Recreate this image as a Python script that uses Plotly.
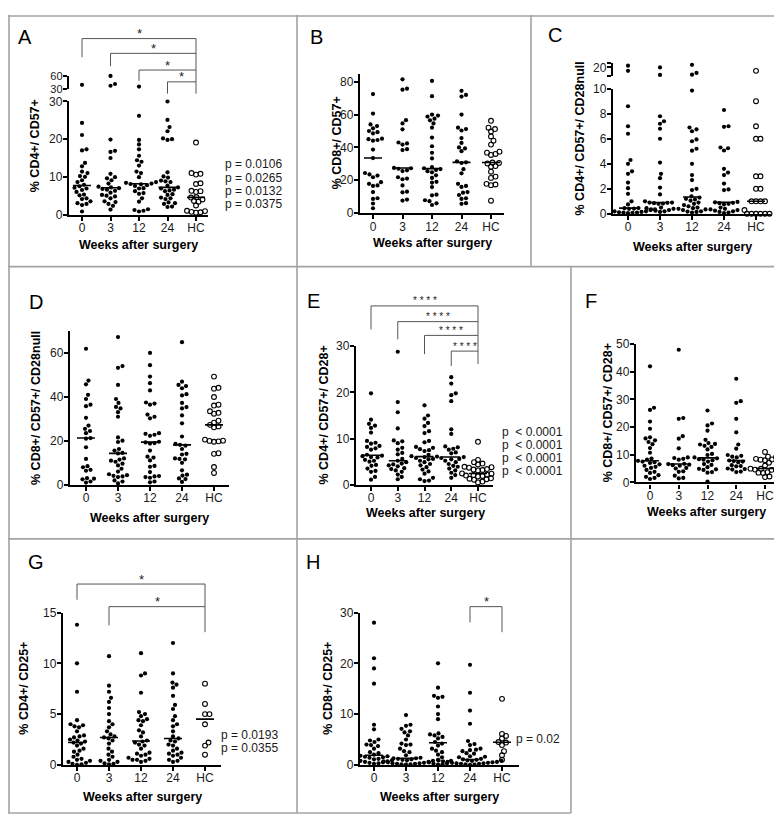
import numpy as np
import plotly.graph_objects as go

W, H = 782, 814
CATS = ["0", "3", "12", "24", "HC"]
FONT = "Liberation Sans, Arial, Helvetica, sans-serif"

# ---------------- data ----------------
A_wk0 = [39, 24.3, 21.1, 17.3, 17.0, 13.7, 12.8, 11.4, 11.0, 10.2, 10.0, 9.1, 8.6, 7.9, 7.5, 7.1, 6.9, 6.5, 6.0, 5.3, 5.1, 4.3, 4.1, 3.5, 3.0, 2.8, 2.5, 0.8]
A_wk3 = [60, 41, 37, 19.9, 16.9, 16.6, 15.0, 10.8, 9.9, 9.6, 9.1, 8.2, 7.4, 7.2, 7.0, 6.8, 6.6, 6.3, 5.8, 5.2, 5.0, 4.8, 4.3, 3.5, 3.3, 2.8, 2.3, 1.3]
A_wk12 = [35, 26.2, 19.8, 18.6, 17.3, 15.6, 14.4, 14.0, 13.0, 11.4, 11.0, 9.9, 8.6, 8.4, 8.2, 8.1, 8.0, 7.8, 7.6, 7.0, 6.9, 6.2, 5.7, 5.5, 4.3, 3.4, 1.4, 1.2, 1.0, 0.8]
A_wk24 = [30, 25.1, 23.2, 22.1, 20.2, 20.0, 19.8, 11.2, 10.1, 9.8, 9.0, 8.8, 8.6, 7.7, 7.2, 6.9, 6.6, 6.4, 6.2, 5.4, 5.2, 4.5, 4.3, 4.1, 3.2, 3.0, 2.8, 2.1, 2.0]
A_hc = [19.1, 11.0, 10.8, 10.6, 8.3, 8.1, 6.3, 6.2, 6.0, 4.6, 4.5, 4.0, 3.6, 3.4, 2.4, 1.0, 0.9, 0.7, 0.6, 0.5]

B_wk0 = [72.5, 60.6, 54, 53, 51.6, 50, 49.3, 48.5, 45.3, 45, 44.5, 44.1, 38.7, 33.5, 24.4, 23.5, 22.8, 21.8, 18.8, 17.8, 16.8, 16.5, 12.8, 9, 8.6, 5.8, 2.9]
B_wk3 = [81.5, 75.8, 75.2, 56.6, 54.6, 51, 43, 42.4, 41.7, 38.9, 38.4, 27.3, 27.5, 27, 26, 25.6, 21.8, 21, 20.6, 16.8, 13, 12.6, 8.2, 7.6]
B_wk12 = [80.5, 71.2, 60, 59.4, 58.8, 57.5, 56.5, 54.6, 52, 46, 40.7, 36.7, 33.3, 28, 27.3, 26.8, 26.3, 25.5, 24.8, 23, 21.4, 19, 18.5, 15.8, 11.2, 10.8, 7.8, 7.2, 5.9, 4.9]
B_wk24 = [74.5, 72, 71, 60, 52, 51.2, 50.3, 45.7, 42.7, 40, 39.4, 37.7, 31.5, 30.9, 30.5, 26.7, 24.2, 17.8, 16.5, 15.9, 12.8, 12.4, 11, 9, 8.6, 6, 5.6]
B_hc = [56.2, 52, 51.2, 49.7, 46.7, 44.1, 41.7, 37.4, 36.8, 36, 35.4, 30.8, 30.5, 30.2, 28.6, 28.2, 25.2, 22.2, 21.4, 17.8, 17.4, 17, 7.5]

C_wk0 = [22, 16, 8.6, 7.0, 6.4, 4.3, 4.0, 3.4, 3.2, 2.5, 2.05, 1.6, 1.0, 0.75, 0.46, 0.45, 0.42, 0.4, 0.35, 0.3, 0.3, 0.25, 0.2, 0.2, 0.15, 0.12, 0.1, 0.1, 0.08, 0.05]
C_wk3 = [20, 11.2, 7.8, 7.4, 7.2, 6.8, 6.0, 4.1, 3.2, 2.85, 2.1, 1.55, 1.0, 0.9, 0.9, 0.88, 0.85, 0.82, 0.8, 0.5, 0.45, 0.4, 0.35, 0.3, 0.25, 0.2, 0.15]
C_wk12 = [23, 13.5, 11.5, 9.85, 6.9, 6.75, 6.6, 5.95, 5.8, 5.2, 5.05, 4.0, 3.1, 2.7, 2.0, 1.9, 1.4, 1.3, 1.2, 1.15, 1.05, 0.9, 0.8, 0.7, 0.6, 0.5, 0.45, 0.4, 0.35, 0.3, 0.2, 0.18, 0.15, 0.1]
C_wk24 = [8.3, 7.0, 6.95, 5.3, 5.24, 5.06, 3.6, 3.3, 3.1, 2.42, 1.95, 1.9, 0.95, 0.92, 0.88, 0.85, 0.8, 0.75, 0.5, 0.4, 0.35, 0.3, 0.25, 0.2, 0.15, 0.1, 0.05]
C_hc = [16, 9.0, 7.0, 6.0, 6.0, 3.0, 3.0, 2.0, 2.0, 1.0, 1.0, 1.0, 1.0, 0.3, 0, 0, 0, 0, 0, 0]

D_wk0 = [62, 47.5, 45.8, 41, 39.1, 36.5, 35.8, 30.5, 27, 25.5, 24.5, 23.5, 21.3, 21, 17.1, 11.8, 8.5, 8, 6.8, 6.4, 3, 2.8, 2.5, 1.5, 1.0]
D_wk3 = [67.3, 54.1, 53.3, 45.5, 39.1, 37.3, 35.5, 34.8, 33.1, 31, 21.6, 20.1, 19.5, 16.3, 15.6, 14.5, 14.3, 12, 11.5, 11, 10.5, 9.6, 8.8, 7.3, 6, 4.8, 4.4, 4.1, 3.8, 3.5, 2, 1.5, 0.6]
D_wk12 = [60.1, 54.5, 49.3, 46.3, 43, 37.5, 37, 36.5, 32, 31, 30.3, 23.5, 23.2, 22.8, 22.3, 19.6, 19.3, 19, 18.8, 15.6, 12.8, 12.4, 11.1, 8.6, 8.2, 5.8, 4, 3.8, 3.5, 3.2, 1.5, 1.1]
D_wk24 = [65, 47, 45.5, 45, 44, 41.3, 40.7, 37.3, 35.4, 34.8, 31.6, 28, 22, 18.6, 18.2, 17.8, 16.3, 14.1, 13.8, 12, 11.8, 11.6, 10, 6.6, 4.6, 4.2, 2.9, 2.6, 1.3]
D_hc = [49.3, 44.2, 43.8, 40, 36.5, 36.1, 33.5, 32.8, 32.4, 29.2, 28.3, 27.3, 26.6, 26.2, 20.6, 20.1, 20.0, 19.8, 19.6, 14.4, 14.1, 8.1, 5.4]

E_wk0 = [19.8, 14.1, 13.2, 12.8, 12.3, 11.3, 9.5, 9.1, 8.9, 8.4, 8.2, 7.9, 7.6, 6.5, 6.3, 6.2, 6.0, 5.9, 5.4, 5.2, 5.0, 4.3, 4.1, 3.5, 3.0, 2.8, 1.7, 1.1]
E_wk3 = [28.8, 17.9, 15.7, 12.2, 9.6, 9.4, 9.0, 8.0, 7.6, 6.9, 6.6, 5.6, 5.2, 4.9, 4.6, 4.4, 4.2, 4.0, 3.6, 3.4, 3.1, 2.8, 2.2, 1.7, 1.2]
E_wk12 = [17.2, 15, 14.3, 13.4, 12.7, 11.6, 11.2, 9.5, 9.2, 8.2, 8.0, 7.7, 7.5, 7.3, 6.5, 6.2, 6.1, 6.0, 5.8, 5.6, 5.5, 5.2, 4.9, 4.5, 4.2, 3.8, 3.3, 2.9, 2.4, 1.5, 1.2, 0.9, 0.8]
E_wk24 = [23.3, 21.9, 19.8, 19.4, 18.1, 12.0, 11.0, 8.3, 8.1, 7.8, 7.6, 7.0, 6.8, 6.0, 5.8, 5.6, 5.5, 5.2, 4.9, 4.5, 4.1, 3.9, 3.5, 3.1, 2.6, 2.1, 1.5]
E_hc = [9.3, 5.4, 4.9, 4.6, 4.4, 3.9, 3.8, 3.7, 3.4, 3.3, 3.2, 3.1, 2.45, 2.4, 2.2, 2.1, 2.0, 1.9, 1.8, 1.4, 1.3, 1.2, 1.1, 0.7, 0.5]

F_wk0 = [42, 27, 26.2, 22, 19.4, 16.3, 15.9, 15.2, 14.6, 13.8, 12.4, 10.7, 8.6, 8.2, 7.8, 7.5, 7.3, 7.0, 6.5, 6.0, 5.6, 5.2, 4.5, 3.8, 3.4, 2.6, 2.0, 1.6, 1.2]
F_wk3 = [48, 23.3, 23.0, 16.7, 15.8, 12.3, 9.0, 8.8, 8.5, 8.2, 6.7, 6.6, 6.4, 6.2, 6.0, 5.2, 5.0, 4.0, 3.8, 2.4, 1.6, 1.4]
F_wk12 = [26, 21.3, 20.6, 18.7, 15.4, 14.2, 13.9, 13.7, 13.2, 12.8, 11.9, 10.3, 9.9, 9.0, 8.7, 8.4, 8.2, 8.0, 7.5, 6.6, 6.3, 5.5, 4.9, 4.7, 4.5, 3.7, 3.5, 0.3]
F_wk24 = [37.5, 29.4, 28.8, 23, 18.1, 13.7, 12.2, 9.9, 9.6, 9.3, 9.0, 7.9, 7.7, 7.5, 7.3, 6.2, 5.9, 5.8, 5.0, 4.8, 4.6, 3.9, 3.7]
F_hc = [11, 9.3, 9.1, 8.5, 8.3, 8.2, 8.0, 7.1, 6.1, 5.05, 4.95, 4.9, 4.8, 4.6, 4.5, 3.7, 3.5, 3.4, 2.1, 1.9]

G_wk0 = [13.8, 10.0, 7.2, 4.4, 4.0, 3.9, 3.8, 3.7, 3.3, 2.9, 2.8, 2.7, 2.5, 2.4, 2.3, 2.2, 2.1, 1.9, 1.6, 1.4, 1.3, 1.0, 0.8, 0.6, 0.5, 0.4, 0.3, 0.2, 0.1, 0.05, 0.0]
G_wk3 = [10.7, 7.8, 7.2, 6.6, 6.2, 5.6, 5.0, 4.3, 4.0, 3.7, 3.3, 3.0, 2.8, 2.7, 2.6, 2.4, 2.1, 1.6, 1.3, 1.0, 0.8, 0.5, 0.4, 0.3, 0.15, 0.1, 0.05]
G_wk12 = [11.0, 9.0, 8.8, 7.1, 5.2, 5.0, 4.8, 4.5, 4.4, 4.3, 3.9, 3.4, 3.2, 2.8, 2.4, 2.3, 2.2, 2.0, 1.9, 1.6, 1.2, 1.1, 1.0, 0.9, 0.7, 0.6, 0.5, 0.5, 0.4, 0.3]
G_wk24 = [12.0, 9.0, 8.1, 7.9, 7.6, 6.8, 5.9, 5.5, 4.8, 4.4, 4.0, 3.8, 3.3, 2.8, 2.6, 2.4, 2.3, 2.0, 1.9, 1.6, 1.4, 1.2, 1.1, 1.0, 0.9, 0.7, 0.5, 0.4, 0.3]
G_hc = [8.0, 6.0, 5.0, 5.0, 4.0, 2.2, 1.9, 1.0]

H_wk0 = [28, 21, 19, 16, 7.9, 7.0, 5.0, 4.8, 4.5, 4.0, 3.9, 3.7, 3.2, 2.5, 2.3, 2.0, 1.8, 1.7, 1.6, 1.5, 1.4, 1.2, 1.1, 1.0, 0.9, 0.8, 0.7, 0.6, 0.5, 0.4, 0.3, 0.2]
H_wk3 = [9.8, 7.9, 7.7, 7.1, 6.6, 6.4, 5.8, 5.0, 4.2, 4.0, 3.9, 3.2, 2.7, 2.5, 1.9, 1.4, 1.3, 1.3, 1.2, 1.1, 1.0, 0.9, 0.8, 0.7, 0.6, 0.5, 0.4, 0.3, 0.3, 0.2, 0.2, 0.1, 0.1, 0.05]
H_wk12 = [20, 15.2, 13.6, 13.4, 13.2, 11.5, 10.0, 9.0, 6.2, 6.0, 5.8, 5.5, 5.2, 4.5, 4.2, 3.8, 3.2, 2.8, 2.5, 2.0, 1.5, 1.0, 0.8, 0.5, 0.3, 0.2, 0.1, 0.05]
H_wk24 = [19.7, 14.2, 10.7, 8.1, 4.7, 4.1, 3.9, 3.2, 3.0, 2.9, 2.7, 2.3, 2.2, 1.7, 1.6, 1.5, 1.2, 1.1, 1.0, 0.9, 0.9, 0.8, 0.8, 0.7, 0.6, 0.6, 0.5, 0.4, 0.4, 0.3, 0.3, 0.2, 0.2, 0.1, 0.05, 0.0]
H_hc = [13.0, 6.1, 5.7, 5.2, 4.5, 4.4, 3.9, 2.7, 1.9, 1.0]

P_A = ["p = 0.0106", "p = 0.0265", "p = 0.0132", "p = 0.0375"]
P_E = ["p  < 0.0001", "p  < 0.0001", "p  < 0.0001", "p  < 0.0001"]
P_G = ["p = 0.0193", "p = 0.0355"]
P_H = ["p = 0.02"]

# ---------------- layout geometry (pixels) ----------------
PANELS = [
    dict(letter="A", groups=[A_wk0, A_wk3, A_wk12, A_wk24, A_hc], ytitle="% CD4+/ CD57+",
         left=61, right=200, c0=74, c4=188, split=30,
         segs=[dict(bot=203, top=88, rng=[0, 30], tv=[0, 10, 20, 30], tt=None, fs=12),
               dict(bot=75, top=62, rng=[30, 60], tv=[30, 60], tt=None, fs=11)],
         ytx=27, xtl=(130, 234), lp=(17, 22),
         brackets=[(0, 24, 43), (1, 39, 52), (2, 56, 67), (3, 68, 80)], rleg=80, star="*", starsize=13,
         ptext=P_A, pxy=(215, 152, 13.6)),
    dict(letter="B", groups=[B_wk0, B_wk3, B_wk12, B_wk24, B_hc], ytitle="% CD8+/ CD57+",
         left=352, right=496, c0=365, c4=483, split=None,
         segs=[dict(bot=201.5, top=59.6, rng=[0, 85], tv=[0, 20, 40, 60, 80], tt=None, fs=12)],
         ytx=329, xtl=(424, 232), lp=(308, 22)),
    dict(letter="C", groups=[C_wk0, C_wk3, C_wk12, C_wk24, C_hc], ytitle="% CD4+/ CD57+/ CD28null",
         left=605, right=763, c0=620, c4=748, split=10,
         segs=[dict(bot=202.3, top=75, rng=[0, 10], tv=[0, 2, 4, 6, 8, 10], tt=None, fs=12),
               dict(bot=62, top=49, rng=[10, 25], tv=[10, 20, 25], tt=["", "20", ""], fs=12)],
         ytx=572, xtl=(684, 236), lp=(547, 20)),
    dict(letter="D", groups=[D_wk0, D_wk3, D_wk12, D_wk24, D_hc], ytitle="% CD8+/ CD57+/ CD28null",
         left=62, right=221, c0=78, c4=206, split=None,
         segs=[dict(bot=478, top=321.7, rng=[0, 70], tv=[0, 20, 40, 60], tt=None, fs=12)],
         ytx=28, xtl=(141, 512), lp=(28, 292)),
    dict(letter="E", groups=[E_wk0, E_wk3, E_wk12, E_wk24, E_hc], ytitle="% CD4+/ CD57+/ CD28+",
         left=348, right=485, c0=363, c4=470, split=None,
         segs=[dict(bot=478, top=337, rng=[0, 30], tv=[0, 10, 20, 30], tt=None, fs=12)],
         ytx=316, xtl=(417, 507), lp=(305, 291),
         brackets=[(0, 296, 320), (1, 312, 330), (2, 326, 345), (3, 342, 357)], rleg=355,
         star="* * * *", starsize=10, ptext=P_E, pxy=(492, 424, 13.4)),
    dict(letter="F", groups=[F_wk0, F_wk3, F_wk12, F_wk24, F_hc], ytitle="% CD8+/ CD57+/ CD28+",
         left=628, right=770, c0=642, c4=757, split=None,
         segs=[dict(bot=475.5, top=335, rng=[0, 50], tv=[0, 10, 20, 30, 40, 50], tt=None, fs=12)],
         ytx=600, xtl=(698, 506), lp=(583, 291)),
    dict(letter="G", groups=[G_wk0, G_wk3, G_wk12, G_wk24, G_hc], ytitle="% CD4+/ CD25+",
         left=55, right=213, c0=69, c4=197, split=None,
         segs=[dict(bot=763, top=608, rng=[0, 15], tv=[0, 5, 10, 15], tt=None, fs=12)],
         ytx=16, xtl=(134, 796), lp=(28, 557),
         brackets=[(0, 579, 595), (1, 602, 621)], rleg=628, star="*", starsize=13,
         ptext=P_G, pxy=(211, 733, 12.5)),
    dict(letter="H", groups=[H_wk0, H_wk3, H_wk12, H_wk24, H_hc], ytitle="% CD8+/ CD25+",
         left=352, right=511, c0=366, c4=494, split=None,
         segs=[dict(bot=763, top=608, rng=[0, 30], tv=[0, 10, 20, 30], tt=None, fs=12)],
         ytx=320, xtl=(431, 796), lp=(305, 557),
         brackets=[(3, 602, 618)], rleg=628, star="*", starsize=13,
         ptext=P_H, pxy=(506, 737, 13)),
]

BORDERS = [
    (0, 1, 779.5, 1), (1, 0, 1, 812), (779.5, 0, 779.5, 533),
    (0, 256, 779.5, 256), (0, 533, 779.5, 533), (0, 812, 563, 812),
    (289, 0, 289, 256), (523, 0, 523, 256),
    (289, 256, 289, 533), (563, 256, 563, 533),
    (289, 533, 289, 812), (563, 533, 563, 812),
]

TITLE_SIZE = 12.5


def fx(p):
    return p / W


def fy(p):
    return 1 - p / H


def swarm(vals, ppu, d=4.5):
    vals = np.asarray(vals, float)
    order = np.argsort(vals, kind="stable")
    cands = [0.0]
    for k in range(1, 400):
        cands += [0.5 * k, -0.5 * k]
    placed = []
    off = np.zeros(len(vals))
    for i in order:
        y = vals[i] * ppu
        for c in cands:
            if all((c - a) ** 2 + (y - b) ** 2 >= d * d for a, b in placed):
                break
        placed.append((c, y))
        off[i] = c
    return off


axis_common = dict(showline=True, linecolor="black", linewidth=2.4, ticks="outside", ticklen=4,
                   tickwidth=2, tickcolor="black", showgrid=False, zeroline=False, fixedrange=True)

fig = go.Figure()
layout = dict(width=W, height=H, margin=dict(l=0, r=0, t=0, b=0), autosize=False,
              paper_bgcolor="white", plot_bgcolor="white", showlegend=False,
              font=dict(family=FONT, color="black"))
shapes = []
annotations = []

xi = 0
yi = 0
for P in PANELS:
    xi += 1
    xname = "x" if xi == 1 else f"x{xi}"
    xkey = "xaxis" if xi == 1 else f"xaxis{xi}"
    sp = (P["c4"] - P["c0"]) / 4.0
    r0 = -(P["c0"] - P["left"]) / sp
    r1 = 4 + (P["right"] - P["c4"]) / sp
    seg_names = []
    for si, S in enumerate(P["segs"]):
        yi += 1
        yname = "y" if yi == 1 else f"y{yi}"
        ykey = "yaxis" if yi == 1 else f"yaxis{yi}"
        yax = dict(axis_common)
        yax.update(domain=[fy(S["bot"]), fy(S["top"])], range=S["rng"], anchor=xname,
                   tickmode="array", tickvals=S["tv"], ticklabelstandoff=-2,
                   tickfont=dict(family=FONT, size=S["fs"], color="#1a1a1a"))
        if S["tt"] is not None:
            yax["ticktext"] = S["tt"]
        layout[ykey] = yax
        seg_names.append(yname)
        if si == 0:
            xax = dict(axis_common)
            xax.update(domain=[fx(P["left"]), fx(P["right"])], range=[r0, r1], anchor=yname,
                       tickmode="array", tickvals=[0, 1, 2, 3, 4], ticktext=CATS, ticklabelstandoff=-3,
                       tickfont=dict(family=FONT, size=12, color="#1a1a1a"))
            layout[xkey] = xax

    # points
    for g, vals in enumerate(P["groups"]):
        vals = np.asarray(vals, float)
        for si, S in enumerate(P["segs"]):
            if P["split"] is None:
                sel = vals
            elif si == 0:
                sel = vals[vals <= P["split"]]
            else:
                sel = vals[vals > P["split"]]
            if len(sel) == 0:
                continue
            ppu = (S["bot"] - S["top"]) / (S["rng"][1] - S["rng"][0])
            offs = swarm(sel - S["rng"][0], ppu) / sp
            if g < 4:
                marker = dict(symbol="circle", size=4.2, color="black", line=dict(width=0))
            else:
                marker = dict(symbol="circle-open", size=4.8, color="black", line=dict(width=1.1, color="black"))
            fig.add_trace(go.Scatter(x=g + offs, y=sel, mode="markers", marker=marker,
                                     xaxis=xname, yaxis=seg_names[si], cliponaxis=False,
                                     hoverinfo="y"))
    # medians
    half = 9.0 / sp
    mx, my = [], []
    for g, vals in enumerate(P["groups"]):
        m = float(np.median(vals))
        mx += [g - half, g + half, None]
        my += [m, m, None]
    fig.add_trace(go.Scatter(x=mx, y=my, mode="lines", line=dict(color="black", width=1.6),
                             xaxis=xname, yaxis=seg_names[0], cliponaxis=False, hoverinfo="skip"))

    # titles
    annotations.append(dict(text="<b>Weeks after surgery</b>", x=fx(P["xtl"][0]), y=fy(P["xtl"][1]),
                            xref="paper", yref="paper", showarrow=False, xanchor="center", yanchor="middle",
                            font=dict(family=FONT, size=TITLE_SIZE, color="black")))
    ytop = P["segs"][-1]["top"]
    ybot = P["segs"][0]["bot"]
    annotations.append(dict(text="<b>" + P["ytitle"] + "</b>", x=fx(P["ytx"]), y=fy((ytop + ybot) / 2),
                            xref="paper", yref="paper", showarrow=False, textangle=-90,
                            xanchor="center", yanchor="middle",
                            font=dict(family=FONT, size=TITLE_SIZE, color="black")))
    annotations.append(dict(text=P["letter"], x=fx(P["lp"][0]), y=fy(P["lp"][1]), xref="paper", yref="paper",
                            showarrow=False, xanchor="center", yanchor="middle",
                            font=dict(family=FONT, size=20, color="black")))

    # significance brackets
    if "brackets" in P:
        col = "#555555"
        top_y = min(b[1] for b in P["brackets"])
        for (gi, by, leg) in P["brackets"]:
            shapes.append(dict(type="line", xref=xname, yref="paper", x0=gi, x1=4, y0=fy(by), y1=fy(by),
                               line=dict(color=col, width=1)))
            shapes.append(dict(type="line", xref=xname, yref="paper", x0=gi, x1=gi, y0=fy(by), y1=fy(leg),
                               line=dict(color=col, width=1)))
            annotations.append(dict(text=P["star"], x=(gi + 4) / 2, y=fy(by - 5), xref=xname, yref="paper",
                                    showarrow=False, xanchor="center", yanchor="middle",
                                    font=dict(family=FONT, size=P["starsize"], color="#222")))
        shapes.append(dict(type="line", xref=xname, yref="paper", x0=4, x1=4, y0=fy(top_y), y1=fy(P["rleg"]),
                           line=dict(color=col, width=1)))
    if "ptext" in P:
        px0, py0, dy = P["pxy"]
        for k, t in enumerate(P["ptext"]):
            annotations.append(dict(text=t, x=fx(px0), y=fy(py0 + k * dy), xref="paper", yref="paper",
                                    showarrow=False, xanchor="left", yanchor="middle",
                                    font=dict(family=FONT, size=12, color="#1a1a1a")))

for (x0, y0, x1, y1) in BORDERS:
    shapes.append(dict(type="line", xref="paper", yref="paper", x0=fx(x0), y0=fy(y0), x1=fx(x1), y1=fy(y1),
                       line=dict(color="#a3a3a3", width=1.6)))

layout["shapes"] = shapes
layout["annotations"] = annotations
fig.update_layout(**layout)
fig.write_html("out.html")
